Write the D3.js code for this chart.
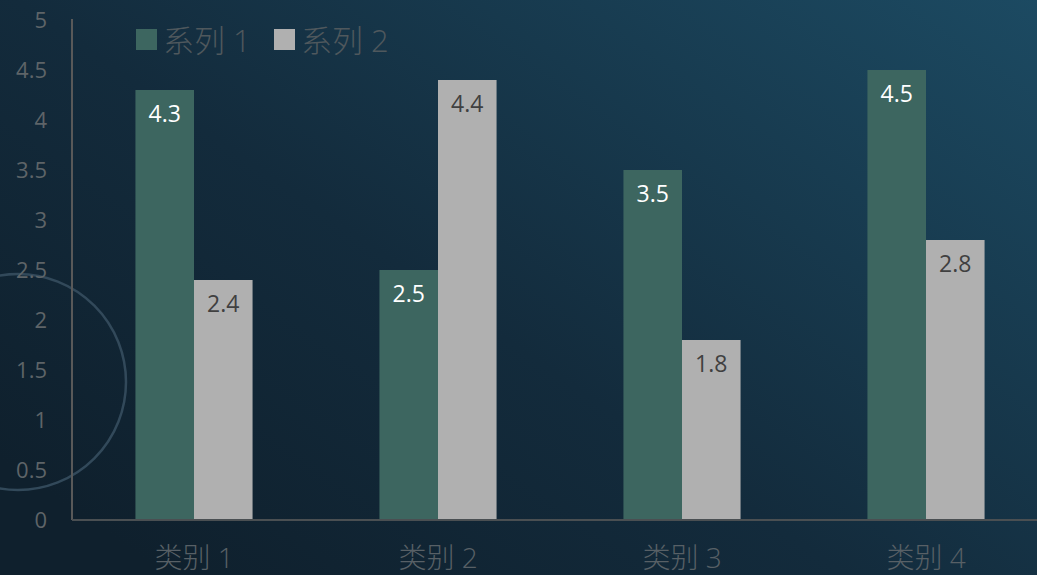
<!DOCTYPE html>
<html>
<head>
<meta charset="utf-8">
<script src="https://cdn.jsdelivr.net/npm/d3@7"></script>
<style>
  html, body { margin: 0; padding: 0; background: #10222f; overflow: hidden; }
  text { font-family: "Open Sans", "Noto Sans CJK SC", sans-serif; }
</style>
</head>
<body>
<div id="chart"></div>
<script>
// Data
const categories = ["类别 1", "类别 2", "类别 3", "类别 4"];
const seriesNames = ["系列 1", "系列 2"];
const series1 = [4.3, 2.5, 3.5, 4.5];
const series2 = [2.4, 4.4, 1.8, 2.8];
const yTicks = [0, 0.5, 1, 1.5, 2, 2.5, 3, 3.5, 4, 4.5, 5];

const svgWidth = 1037;
const svgHeight = 575;
const colors = ["#3d6660", "#b0b0b0"];
const labelColors = ["#ffffff", "#404040"];

const svg = d3.select("#chart")
  .append("svg")
  .attr("width", svgWidth)
  .attr("height", svgHeight);

// background gradient
const defs = svg.append("defs");
const grad = defs.append("linearGradient")
  .attr("id", "bg")
  .attr("x1", "0").attr("y1", "0.8")
  .attr("x2", "1").attr("y2", "0");
grad.append("stop").attr("offset", "0%").attr("stop-color", "#0f202d");
grad.append("stop").attr("offset", "40%").attr("stop-color", "#132b3c");
grad.append("stop").attr("offset", "100%").attr("stop-color", "#1c4a62");

svg.append("rect")
  .attr("width", svgWidth)
  .attr("height", svgHeight)
  .attr("fill", "url(#bg)");

// decorative circle
svg.append("circle")
  .attr("cx", 18)
  .attr("cy", 382)
  .attr("r", 108)
  .attr("fill", "none")
  .attr("stroke", "#32495a")
  .attr("stroke-width", 2.5);

// scales
const x0 = d3.scaleBand()
  .domain(categories)
  .range([72, 1048])
  .paddingInner(0.52)
  .paddingOuter(0.26);

const x1 = d3.scaleBand()
  .domain([0, 1])
  .range([0, x0.bandwidth()]);

const y = d3.scaleLinear()
  .domain([0, 5])
  .range([520, 20]);

// y axis
const leftAxis = d3.axisLeft(y).tickValues(yTicks).tickSize(0).tickPadding(25)
  .tickFormat(d => d);
const yAxis = svg.append("g")
  .attr("transform", "translate(72,0)")
  .call(leftAxis);
yAxis.select(".domain").attr("stroke", "#595959").attr("stroke-width", 2)
  .attr("d", "M0,19V520");
yAxis.selectAll("text")
  .attr("fill", "#5e6468")
  .attr("font-size", 22);

// bars
const groups = svg.append("g")
  .selectAll("g")
  .data(categories)
  .join("g")
  .attr("transform", d => `translate(${x0(d)},0)`);

const allSeries = [series1, series2];

groups.selectAll("rect")
  .data((d, i) => allSeries.map((s, k) => ({k: k, v: s[i]})))
  .join("rect")
  .attr("x", d => x1(d.k))
  .attr("y", d => y(d.v))
  .attr("width", x1.bandwidth())
  .attr("height", d => y(0) - y(d.v))
  .attr("fill", d => colors[d.k]);

groups.selectAll("text.val")
  .data((d, i) => allSeries.map((s, k) => ({k: k, v: s[i]})))
  .join("text")
  .attr("class", "val")
  .attr("x", d => x1(d.k) + x1.bandwidth() / 2)
  .attr("y", d => y(d.v) + 32)
  .attr("text-anchor", "middle")
  .attr("font-size", 23)
  .attr("fill", d => labelColors[d.k])
  .text(d => d.v.toFixed(1));

// x axis
const bottomAxis = d3.axisBottom(x0).tickSize(0).tickPadding(28);
const xAxis = svg.append("g")
  .attr("transform", "translate(0,520)")
  .call(bottomAxis);
xAxis.select(".domain").attr("stroke", "#4a4f52").attr("stroke-width", 2)
  .attr("d", "M72,0H1037");
xAxis.selectAll("text")
  .attr("fill", "#586066")
  .attr("font-size", 28)
  .attr("font-weight", 300);

// legend
const legend = svg.append("g");
const legendX = [136, 274];
seriesNames.forEach((name, i) => {
  legend.append("rect")
    .attr("x", legendX[i])
    .attr("y", 29)
    .attr("width", 21)
    .attr("height", 21)
    .attr("fill", colors[i]);
  legend.append("text")
    .attr("x", legendX[i] + 27)
    .attr("y", 52)
    .attr("font-size", 31)
    .attr("font-weight", 300)
    .attr("fill", "#4f585d")
    .text(name);
});
</script>
</body>
</html>
